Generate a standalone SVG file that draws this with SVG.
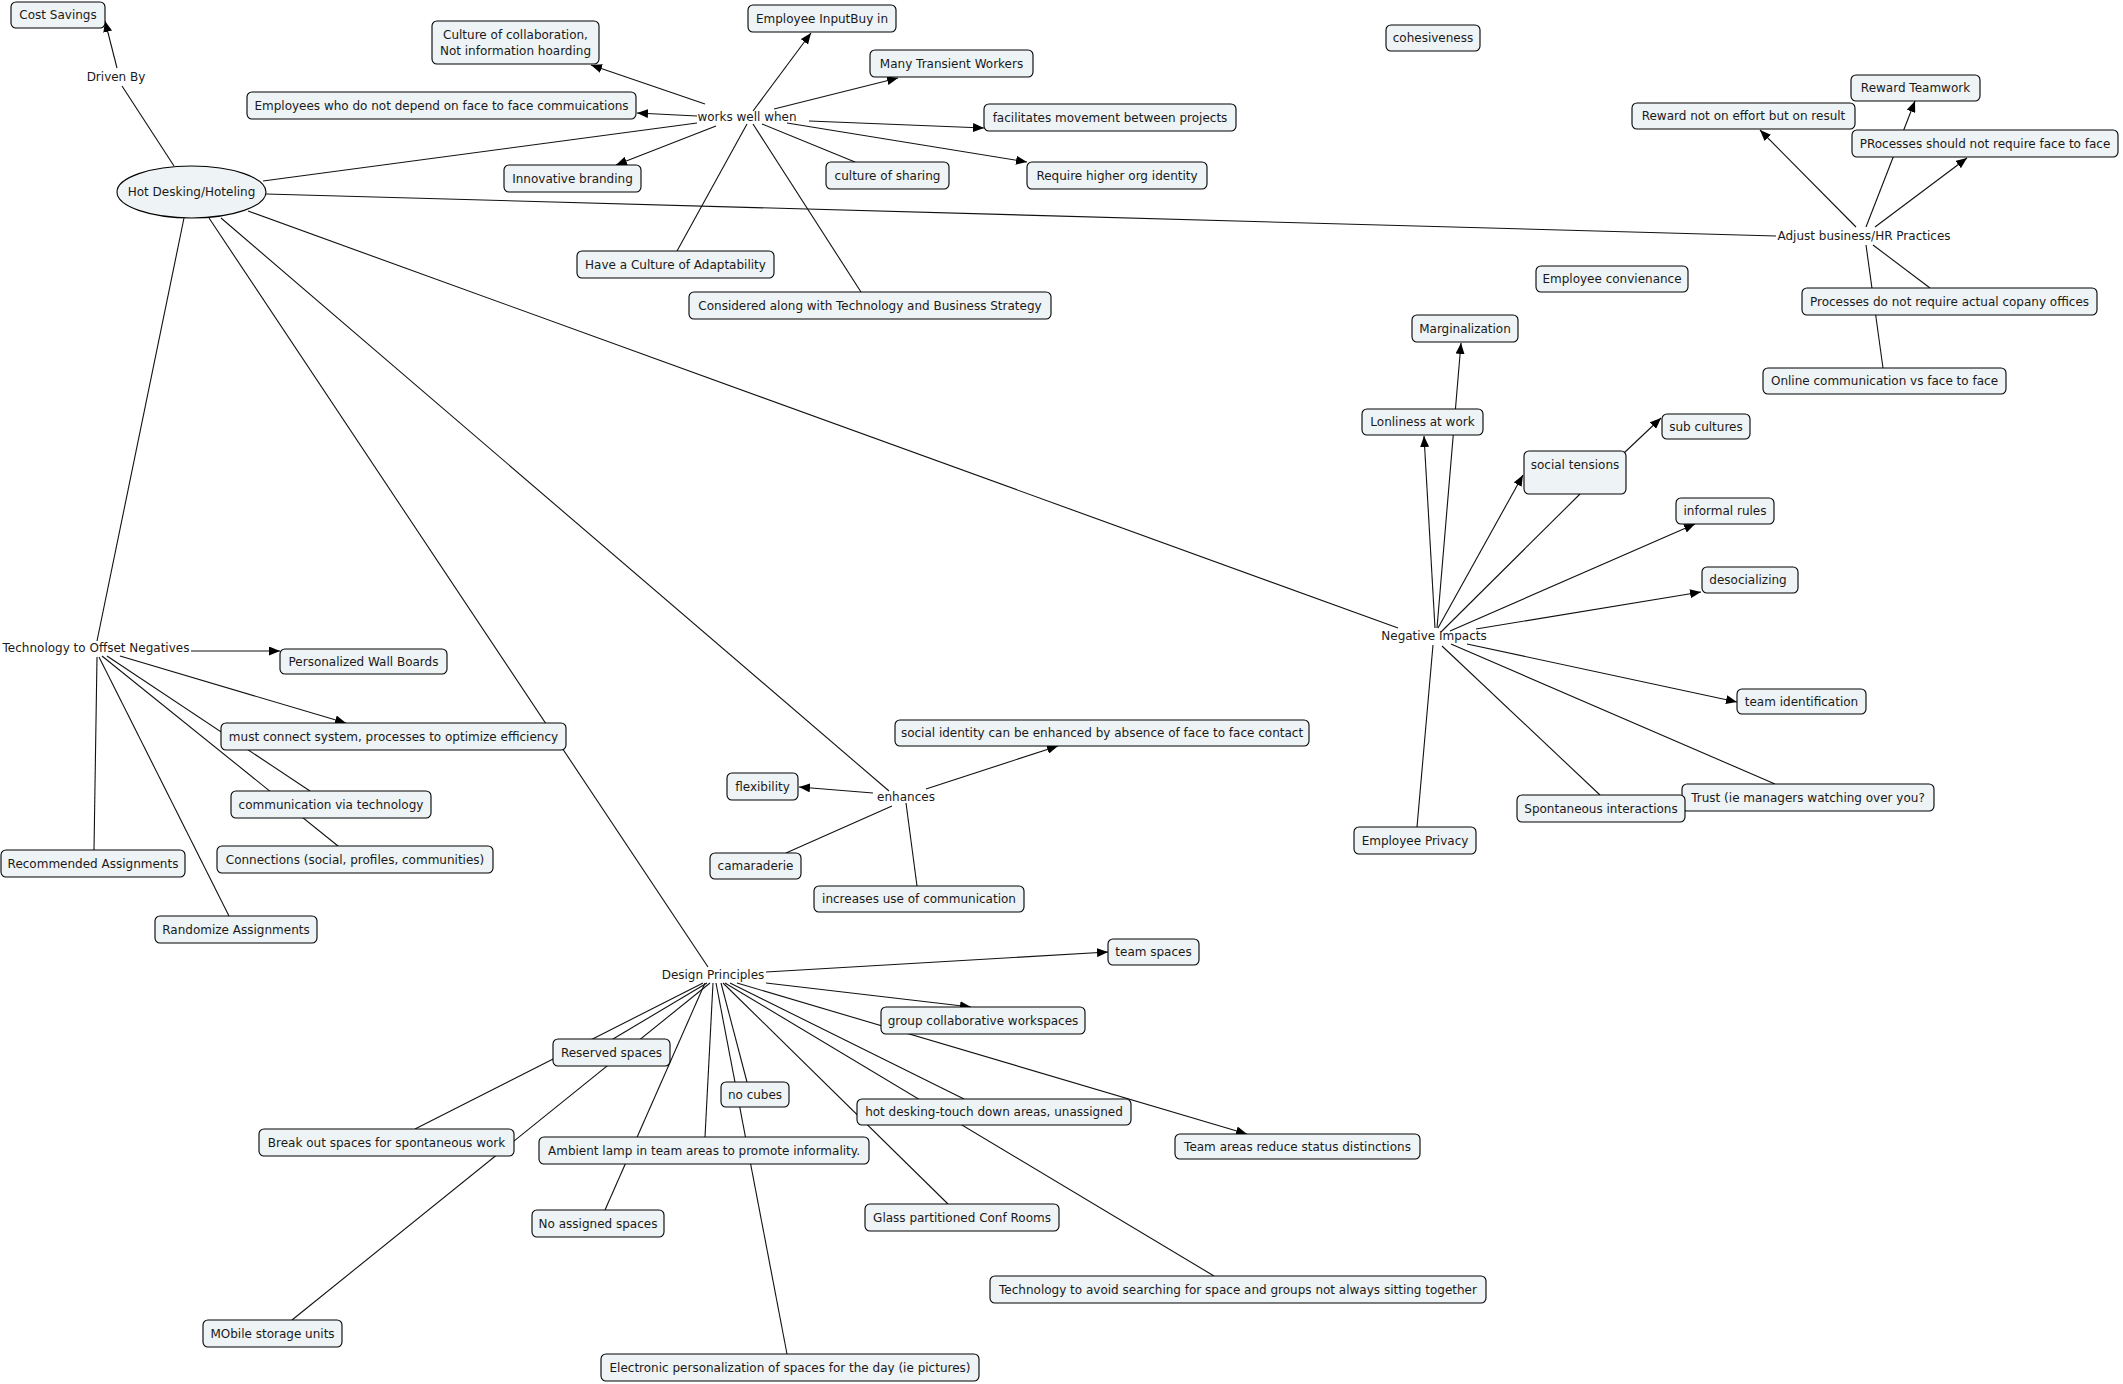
<svg xmlns="http://www.w3.org/2000/svg" width="2123" height="1384" viewBox="0 0 2123 1384">
<defs>
<marker id="arr" viewBox="0 0 11 9" refX="11" refY="4.5" markerWidth="11" markerHeight="9" markerUnits="userSpaceOnUse" orient="auto"><path d="M0,0 L11,4.5 L0,9 z" fill="#000"/></marker>
<style>
.n rect,.n ellipse{fill:#eef3f5;stroke:#000;stroke-width:1.1}
text{font-family:"DejaVu Sans","Liberation Sans",sans-serif;font-size:12px;fill:#1a1a1a;text-anchor:middle}
#connectors line{stroke:#111;stroke-width:1.1}
#connectors line.a{marker-end:url(#arr)}
</style>
</defs>
<rect width="2123" height="1384" fill="#fff"/>
<g id="connectors">
<line x1="174" y1="166" x2="122" y2="86"/>
<line class="a" x1="117" y1="68" x2="105" y2="21"/>
<line x1="263" y1="181" x2="697" y2="123"/>
<line x1="266" y1="194" x2="1776" y2="236"/>
<line x1="248" y1="211" x2="1398" y2="628"/>
<line x1="184" y1="218" x2="97" y2="641"/>
<line x1="221" y1="218" x2="889" y2="791"/>
<line x1="209" y1="218" x2="708" y2="967"/>
<line class="a" x1="705" y1="104" x2="591" y2="65"/>
<line class="a" x1="697" y1="116" x2="637" y2="113"/>
<line class="a" x1="716" y1="126" x2="616" y2="165"/>
<line class="a" x1="753" y1="111" x2="811" y2="33"/>
<line class="a" x1="774" y1="109" x2="898" y2="78"/>
<line class="a" x1="809" y1="121" x2="984" y2="128"/>
<line class="a" x1="787" y1="123" x2="1027" y2="162"/>
<line x1="762" y1="124" x2="855" y2="162"/>
<line x1="747" y1="124" x2="677" y2="251"/>
<line x1="753" y1="124" x2="861" y2="292"/>
<line class="a" x1="1856" y1="227" x2="1760" y2="130"/>
<line class="a" x1="1875" y1="227" x2="1967" y2="158"/>
<line class="a" x1="1866" y1="227" x2="1915" y2="101"/>
<line x1="1866" y1="245" x2="1883" y2="368"/>
<line x1="1873" y1="245" x2="1930" y2="288"/>
<line class="a" x1="1435" y1="628" x2="1424" y2="436"/>
<line class="a" x1="1437" y1="628" x2="1461" y2="343"/>
<line class="a" x1="1438" y1="628" x2="1523" y2="475"/>
<line class="a" x1="1624" y1="453" x2="1661" y2="418"/>
<line x1="1580" y1="494" x2="1441" y2="632"/>
<line class="a" x1="1450" y1="631" x2="1695" y2="524"/>
<line class="a" x1="1476" y1="629" x2="1701" y2="592"/>
<line class="a" x1="1467" y1="644" x2="1737" y2="702"/>
<line x1="1451" y1="644" x2="1775" y2="784"/>
<line x1="1442" y1="646" x2="1600" y2="795"/>
<line x1="1433" y1="645" x2="1417" y2="827"/>
<line class="a" x1="191" y1="651" x2="280" y2="651"/>
<line class="a" x1="120" y1="656" x2="346" y2="723"/>
<line x1="107" y1="656" x2="310" y2="791"/>
<line x1="102" y1="656" x2="338" y2="846"/>
<line x1="97" y1="657" x2="94" y2="850"/>
<line x1="99" y1="657" x2="229" y2="916"/>
<line class="a" x1="926" y1="789" x2="1058" y2="746"/>
<line class="a" x1="873" y1="793" x2="799" y2="787"/>
<line x1="786" y1="853" x2="892" y2="806"/>
<line x1="917" y1="886" x2="906" y2="803"/>
<line class="a" x1="766" y1="972" x2="1108" y2="952"/>
<line class="a" x1="766" y1="983" x2="971" y2="1007"/>
<line class="a" x1="737" y1="983" x2="1247" y2="1134"/>
<line x1="703" y1="983" x2="415" y2="1129"/>
<line x1="707" y1="983" x2="613" y2="1039"/>
<line x1="710" y1="983" x2="292" y2="1320"/>
<line x1="705" y1="983" x2="605" y2="1210"/>
<line x1="713" y1="983" x2="705" y2="1137"/>
<line x1="716" y1="983" x2="787" y2="1354"/>
<line x1="721" y1="983" x2="747" y2="1082"/>
<line x1="723" y1="983" x2="948" y2="1204"/>
<line x1="725" y1="983" x2="1214" y2="1276"/>
<line x1="730" y1="983" x2="964" y2="1099"/>
</g>
<g id="labels">
<text x="116" y="81">Driven By</text>
<text x="747" y="121">works well when</text>
<text x="1864" y="240">Adjust business/HR Practices</text>
<text x="1434" y="640">Negative Impacts</text>
<text x="96" y="652">Technology to Offset Negatives</text>
<text x="906" y="801">enhances</text>
<text x="713" y="979">Design Principles</text>
</g>
<g id="hot-desking" class="n"><ellipse cx="191.5" cy="192" rx="74.5" ry="26"/><text x="191.5" y="196">Hot Desking/Hoteling</text></g>
<g id="cost-savings" class="n"><rect x="11" y="2" width="94" height="26" rx="5"/><text x="58" y="19">Cost Savings</text></g>
<g id="collaboration" class="n"><rect x="432" y="21" width="167" height="43" rx="5"/><text x="515.5" y="39">Culture of collaboration,</text><text x="515.5" y="55">Not information hoarding</text></g>
<g id="employees-face" class="n"><rect x="247" y="92" width="389" height="27" rx="5"/><text x="441.5" y="109.5">Employees who do not depend on face to face commuications</text></g>
<g id="innovative" class="n"><rect x="504" y="165" width="137" height="27" rx="5"/><text x="572.5" y="182.5">Innovative branding</text></g>
<g id="input" class="n"><rect x="748" y="5" width="148" height="27" rx="5"/><text x="822" y="22.5">Employee InputBuy in</text></g>
<g id="transient" class="n"><rect x="870" y="50" width="163" height="27" rx="5"/><text x="951.5" y="67.5">Many Transient Workers</text></g>
<g id="facilitates" class="n"><rect x="984" y="104" width="252" height="27" rx="5"/><text x="1110" y="121.5">facilitates movement between projects</text></g>
<g id="require" class="n"><rect x="1027" y="162" width="180" height="27" rx="5"/><text x="1117" y="179.5">Require higher org identity</text></g>
<g id="sharing" class="n"><rect x="826" y="162" width="123" height="27" rx="5"/><text x="887.5" y="179.5">culture of sharing</text></g>
<g id="adaptability" class="n"><rect x="577" y="251" width="197" height="27" rx="5"/><text x="675.5" y="268.5">Have a Culture of Adaptability</text></g>
<g id="considered" class="n"><rect x="689" y="292" width="362" height="27" rx="5"/><text x="870" y="309.5">Considered along with Technology and Business Strategy</text></g>
<g id="cohesiveness" class="n"><rect x="1386" y="25" width="94" height="26" rx="5"/><text x="1433" y="42">cohesiveness</text></g>
<g id="reward-teamwork" class="n"><rect x="1851" y="75" width="129" height="26" rx="5"/><text x="1915.5" y="92">Reward Teamwork</text></g>
<g id="reward-result" class="n"><rect x="1632" y="103" width="223" height="26" rx="5"/><text x="1743.5" y="120">Reward not on effort but on result</text></g>
<g id="processes-face" class="n"><rect x="1852" y="130" width="266" height="27" rx="5"/><text x="1985" y="147.5">PRocesses should not require face to face</text></g>
<g id="convenience" class="n"><rect x="1536" y="266" width="152" height="26" rx="5"/><text x="1612" y="283">Employee convienance</text></g>
<g id="processes-offices" class="n"><rect x="1802" y="288" width="295" height="27" rx="5"/><text x="1949.5" y="305.5">Processes do not require actual copany offices</text></g>
<g id="online" class="n"><rect x="1763" y="368" width="243" height="26" rx="5"/><text x="1884.5" y="385">Online communication vs face to face</text></g>
<g id="marginalization" class="n"><rect x="1412" y="315" width="106" height="27" rx="5"/><text x="1465" y="332.5">Marginalization</text></g>
<g id="lonliness" class="n"><rect x="1362" y="409" width="121" height="26" rx="5"/><text x="1422.5" y="426">Lonliness at work</text></g>
<g id="sub-cultures" class="n"><rect x="1662" y="414" width="88" height="25" rx="5"/><text x="1706" y="430.5">sub cultures</text></g>
<g id="social-tensions" class="n"><rect x="1524" y="451" width="102" height="43" rx="5"/><text x="1575" y="469">social tensions</text></g>
<g id="informal-rules" class="n"><rect x="1676" y="498" width="98" height="26" rx="5"/><text x="1725" y="515">informal rules</text></g>
<g id="desocializing" class="n"><rect x="1702" y="567" width="96" height="26" rx="5"/><text x="1748" y="584">desocializing</text></g>
<g id="team-identification" class="n"><rect x="1737" y="689" width="129" height="25" rx="5"/><text x="1801.5" y="705.5">team identification</text></g>
<g id="trust" class="n"><rect x="1682" y="784" width="252" height="27" rx="5"/><text x="1808" y="801.5">Trust (ie managers watching over you?</text></g>
<g id="spontaneous" class="n"><rect x="1517" y="795" width="168" height="27" rx="5"/><text x="1601" y="812.5">Spontaneous interactions</text></g>
<g id="privacy" class="n"><rect x="1354" y="827" width="122" height="27" rx="5"/><text x="1415" y="844.5">Employee Privacy</text></g>
<g id="wall-boards" class="n"><rect x="280" y="649" width="167" height="25" rx="5"/><text x="363.5" y="665.5">Personalized Wall Boards</text></g>
<g id="must-connect" class="n"><rect x="221" y="723" width="345" height="27" rx="5"/><text x="393.5" y="740.5">must connect system, processes to optimize efficiency</text></g>
<g id="comm-tech" class="n"><rect x="231" y="791" width="200" height="27" rx="5"/><text x="331" y="808.5">communication via technology</text></g>
<g id="connections" class="n"><rect x="217" y="846" width="276" height="27" rx="5"/><text x="355" y="863.5">Connections (social, profiles, communities)</text></g>
<g id="recommended" class="n"><rect x="1" y="850" width="184" height="27" rx="5"/><text x="93" y="867.5">Recommended Assignments</text></g>
<g id="randomize" class="n"><rect x="155" y="916" width="162" height="27" rx="5"/><text x="236" y="933.5">Randomize Assignments</text></g>
<g id="social-identity" class="n"><rect x="895" y="720" width="414" height="26" rx="5"/><text x="1102" y="737">social identity can be enhanced by absence of face to face contact</text></g>
<g id="flexibility" class="n"><rect x="727" y="773" width="71" height="27" rx="5"/><text x="762.5" y="790.5">flexibility</text></g>
<g id="camaraderie" class="n"><rect x="710" y="853" width="91" height="26" rx="5"/><text x="755.5" y="870">camaraderie</text></g>
<g id="increases" class="n"><rect x="814" y="886" width="210" height="26" rx="5"/><text x="919" y="903">increases use of communication</text></g>
<g id="team-spaces" class="n"><rect x="1108" y="939" width="91" height="26" rx="5"/><text x="1153.5" y="956">team spaces</text></g>
<g id="group-collab" class="n"><rect x="881" y="1007" width="204" height="27" rx="5"/><text x="983" y="1024.5">group collaborative workspaces</text></g>
<g id="reserved" class="n"><rect x="553" y="1039" width="117" height="27" rx="5"/><text x="611.5" y="1056.5">Reserved spaces</text></g>
<g id="no-cubes" class="n"><rect x="721" y="1082" width="68" height="25" rx="5"/><text x="755" y="1098.5">no cubes</text></g>
<g id="touch-down" class="n"><rect x="857" y="1099" width="274" height="26" rx="5"/><text x="994" y="1116">hot desking-touch down areas, unassigned</text></g>
<g id="team-areas" class="n"><rect x="1175" y="1134" width="245" height="25" rx="5"/><text x="1297.5" y="1150.5">Team areas reduce status distinctions</text></g>
<g id="ambient" class="n"><rect x="539" y="1137" width="330" height="27" rx="5"/><text x="704" y="1154.5">Ambient lamp in team areas to promote informality.</text></g>
<g id="no-assigned" class="n"><rect x="532" y="1210" width="132" height="27" rx="5"/><text x="598" y="1227.5">No assigned spaces</text></g>
<g id="glass" class="n"><rect x="865" y="1204" width="194" height="27" rx="5"/><text x="962" y="1221.5">Glass partitioned Conf Rooms</text></g>
<g id="tech-avoid" class="n"><rect x="990" y="1276" width="496" height="27" rx="5"/><text x="1238" y="1293.5">Technology to avoid searching for space and groups not always sitting together</text></g>
<g id="electronic" class="n"><rect x="601" y="1354" width="378" height="27" rx="5"/><text x="790" y="1371.5">Electronic personalization of spaces for the day (ie pictures)</text></g>
<g id="break-out" class="n"><rect x="259" y="1129" width="255" height="27" rx="5"/><text x="386.5" y="1146.5">Break out spaces for spontaneous work</text></g>
<g id="mobile" class="n"><rect x="203" y="1320" width="139" height="27" rx="5"/><text x="272.5" y="1337.5">MObile storage units</text></g>
</svg>
